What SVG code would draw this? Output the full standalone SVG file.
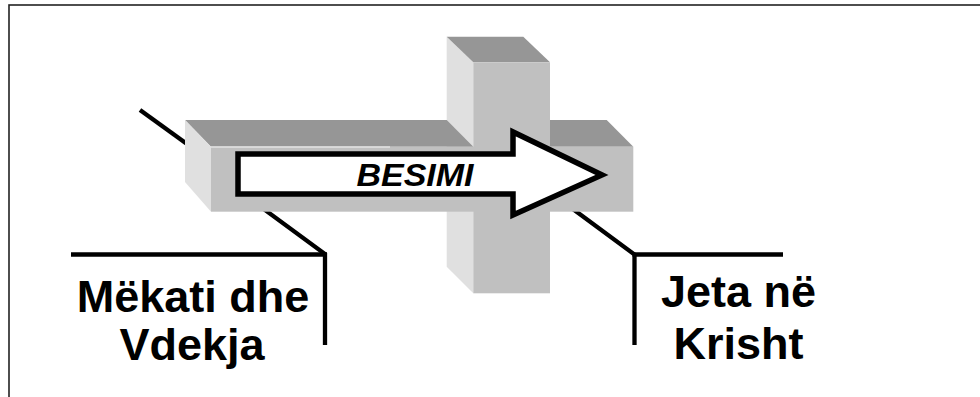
<svg xmlns="http://www.w3.org/2000/svg" width="980" height="397" viewBox="0 0 980 397">
<style>
.top{fill:#969696}
.front{fill:#c0c0c0}
.side{fill:#e0e0e0}
.ln{stroke:#000;stroke-width:4.3;fill:none;stroke-linecap:butt}
.lbl{font-family:"Liberation Sans",Arial,sans-serif;font-weight:bold;font-size:45px;fill:#000;text-anchor:middle}
</style>
<rect x="0" y="0" width="980" height="397" fill="#fff"/>
<rect x="9" y="5" width="990" height="410" fill="none" stroke="#222" stroke-width="1.6"/>
<g id="connectors">
<polyline class="ln" points="140,110 205,157"/>
<polyline class="ln" points="250,199 325,254 325,345"/>
<line class="ln" x1="71" y1="254.5" x2="327" y2="254.5"/>
<polyline class="ln" points="560,199.5 634.5,254.5 634.5,345"/>
<line class="ln" x1="632.5" y1="254.5" x2="783" y2="254.5"/>
</g>
<g id="cross">
<polygon class="side" points="446.7,36.7 473.3,62.3 473.3,293.3 446.7,266.7"/>
<polygon class="top" points="446.7,36.7 523.3,36.7 550,62.3 473.3,62.3"/>
<rect class="front" x="473.3" y="62.3" width="76.7" height="231"/>
<polygon class="top" points="185,120 446.7,120 473.3,146.7 211,146.7"/>
<polygon class="top" points="550,120 606.7,120 633.3,146.7 550,146.7"/>
<polygon class="side" points="185,120 211,146.7 211,211.7 185,182"/>
<rect class="front" x="211" y="146.7" width="422.3" height="65"/>
<line x1="211" y1="147" x2="390" y2="147" stroke="#f4f4f4" stroke-width="1"/>
</g>
<g id="arrow">
<polygon points="238,154 513,154 513,132 602,175 513,215 513,194 238,194" fill="#fff" stroke="#000" stroke-width="5.5" stroke-linejoin="miter"/>
<text x="415" y="186" font-family="'Liberation Sans',Arial,sans-serif" font-weight="bold" font-style="italic" font-size="31" textLength="117" lengthAdjust="spacingAndGlyphs" text-anchor="middle">BESIMI</text>
</g>
<g id="label-left">
<text class="lbl" x="193" y="311.5">Mëkati dhe</text>
<text class="lbl" x="192" y="360">Vdekja</text>
</g>
<g id="label-right">
<text class="lbl" x="738.5" y="307">Jeta në</text>
<text class="lbl" x="738.5" y="358.5">Krisht</text>
</g>
</svg>
